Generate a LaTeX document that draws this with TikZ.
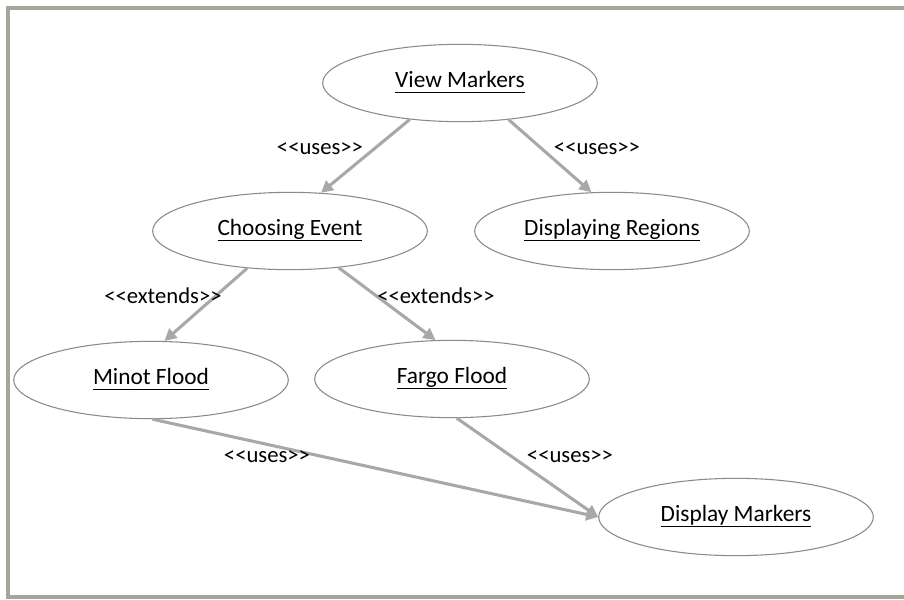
\documentclass[tikz,border=0pt]{standalone}
\usepackage{fontspec}
\setmainfont{Carlito}
\usetikzlibrary{shapes.geometric,arrows.meta}
\definecolor{framecol}{HTML}{A3A798}
\definecolor{arrowcol}{HTML}{A8A8A8}
\definecolor{ellcol}{HTML}{8A8A8A}
\newcommand\ucname[1]{\underline{\rule[-2.2pt]{0pt}{12.5pt}\smash{#1}}}
\tikzset{
  usecase/.style={ellipse, draw=ellcol, line width=0.8pt, fill=white,
    minimum width=206pt, minimum height=58pt, inner sep=0pt,
    font=\fontsize{17.5}{20}\selectfont},
  rel/.style={draw=arrowcol, line width=2.3pt,
    -{Triangle[length=9pt,width=9pt]}, shorten >=0pt},
  lbl/.style={font=\fontsize{17}{20}\selectfont, inner sep=0pt},
}
\begin{document}
\begin{tikzpicture}[x=0.75pt,y=-0.75pt]
\useasboundingbox (0,0) rectangle (904,600);
% frame
\draw[framecol, line width=2.4pt] (904,8) -- (8,8) -- (8,597) -- (904,597);
% use cases
\node[usecase] (vm) at (460,83) {\ucname{View Markers}};
\node[usecase] (ce) at (290,231) {\ucname{Choosing Event}};
\node[usecase] (dr) at (612,231) {\ucname{Displaying Regions}};
\node[usecase] (mf) at (151,380) {\ucname{Minot Flood}};
\node[usecase] (ff) at (452,379) {\ucname{Fargo Flood}};
\node[usecase] (dm) at (736,517) {\ucname{Display Markers}};
% relations
\draw[rel] (vm.216) -- (ce.51);
\draw[rel] (vm.323) -- (dr.118);
\draw[rel] (ce.221) -- (mf.71);
\draw[rel] (ce.323) -- (ff.113);
\draw[rel] (mf.272) -- (dm.180);
\draw[rel] (ff.277) -- (dm.180);
% labels
\node[lbl] (l1) at (320,149) {<{}<uses>{}>};
\node[lbl] (l2) at (597,149) {<{}<uses>{}>};
\node[lbl] (l3) at (163,296) {<{}<extends>{}>};
\node[lbl] (l4) at (436,296) {<{}<extends>{}>};
\node[lbl] (l5) at (267,457) {<{}<uses>{}>};
\node[lbl] (l6) at (570,457) {<{}<uses>{}>};
\end{tikzpicture}
\end{document}
